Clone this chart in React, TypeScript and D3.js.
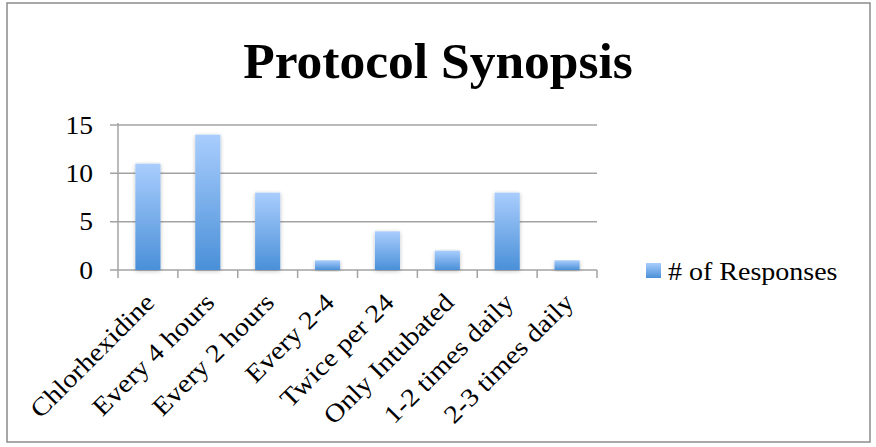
import React from "react";
import * as d3 from "d3";

const categories = ["Chlorhexidine", "Every 4 hours", "Every 2 hours", "Every 2-4", "Twice per 24", "Only Intubated", "1-2 times daily", "2-3 times daily"];
const responses = [11, 14, 8, 1, 4, 2, 8, 1];
const yTicks = [0, 5, 10, 15];
const title = "Protocol Synopsis";
const seriesName = "# of Responses";

const W = 876, H = 447;
const plot = { left: 118, right: 597, top: 125, bottom: 270 };
const FONT = "'Liberation Serif', 'Times New Roman', serif";
const SX = 1.12;

export default function App() {
  const x = d3.scaleBand<string>().domain(categories).range([plot.left, plot.right]).paddingInner(0.58).paddingOuter(0.29);
  const step = (plot.right - plot.left) / categories.length;
  const y = d3.scaleLinear().domain([0, 15]).range([plot.bottom, plot.top]);
  const gridColor = "#a3a3a3";
  return (
    <svg width={W} height={H} style={{ position: "absolute", left: 0, top: 0, background: "#fff" }}>
      <defs>
        <linearGradient id="barGrad" x1="0" y1="0" x2="0" y2="1">
          <stop offset="0%" stopColor="#a9cdfd" />
          <stop offset="100%" stopColor="#4a90d8" />
        </linearGradient>
        <filter id="shadow" x="-30%" y="-10%" width="160%" height="130%">
          <feGaussianBlur in="SourceAlpha" stdDeviation="2" />
          <feOffset dx="0" dy="1" result="b" />
          <feComponentTransfer><feFuncA type="linear" slope="0.25" /></feComponentTransfer>
          <feMerge><feMergeNode /><feMergeNode in="SourceGraphic" /></feMerge>
        </filter>
      </defs>
      <rect x={7} y={3} width={863} height={439} fill="#fff" stroke="#8c8c8c" strokeWidth={1.5} />
      <text x={438} y={78} textAnchor="middle" fontFamily={FONT} fontWeight="bold" fontSize={51.5} fill="#000">{title}</text>
      {yTicks.map((t) => (
        <g key={t}>
          <line x1={plot.left - 8} x2={plot.right} y1={y(t)} y2={y(t)} stroke={gridColor} strokeWidth={1.5} />
          <text transform={`translate(93 ${y(t) + 8.5}) scale(1.08 1)`} textAnchor="end" fontFamily={FONT} fontSize={25.5} fill="#000">{t}</text>
        </g>
      ))}
      <line x1={plot.left} x2={plot.left} y1={plot.top - 2} y2={plot.bottom} stroke={gridColor} strokeWidth={1.5} />
      {d3.range(categories.length + 1).map((i) => (
        <line key={i} x1={plot.left + i * step} x2={plot.left + i * step} y1={plot.bottom} y2={plot.bottom + 8} stroke={gridColor} strokeWidth={1.5} />
      ))}
      {categories.map((c, i) => (
        <rect key={c} x={x(c)} y={y(responses[i])} width={x.bandwidth()} height={plot.bottom - y(responses[i])} fill="url(#barGrad)" filter="url(#shadow)" />
      ))}
      {categories.map((c) => {
        const cx = (x(c) as number) + x.bandwidth() / 2 + 8;
        const cy = plot.bottom + 34;
        return (
          <text key={c} transform={`translate(${cx} ${cy}) rotate(-45) scale(${SX} 1)`} textAnchor="end" fontFamily={FONT} fontSize={25.5} fill="#000">{c}</text>
        );
      })}
      <rect x={646} y={263} width={15} height={15} fill="url(#barGrad)" />
      <text transform={`translate(668 280) scale(${SX} 1)`} fontFamily={FONT} fontSize={25} fill="#000">{seriesName}</text>
    </svg>
  );
}
